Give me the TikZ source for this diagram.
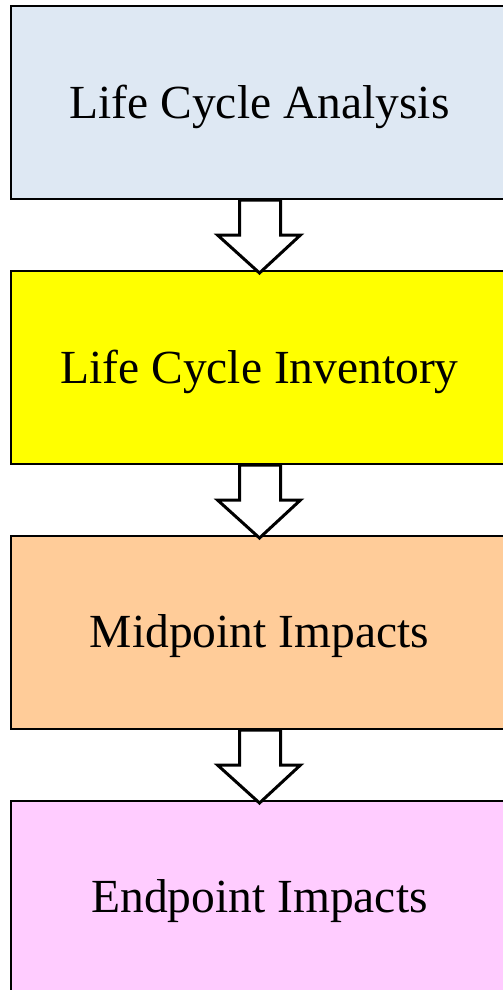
\documentclass[tikz,border=0pt]{standalone}
\usepackage{fontspec}
\setmainfont{Liberation Serif}
\usetikzlibrary{calc}
\definecolor{cA}{HTML}{DEE8F3}
\definecolor{cB}{HTML}{FFFF00}
\definecolor{cC}{HTML}{FFCC99}
\definecolor{cD}{HTML}{FFCCFF}
\tikzset{
  stagebox/.style={draw=black, line width=2pt, minimum width=497pt, minimum height=193pt,
    inner sep=0pt, anchor=north west},
  stagelabel/.style={font=\fontsize{47.5}{56}\selectfont, yshift=-4pt, inner sep=0pt}
}
\tikzset{blockarrow/.style={draw=black, fill=white, line width=3pt, line join=miter}}
\newcommand{\downarrowblock}[1]{%
  \draw[blockarrow] ($(#1.south)+(-20,0)$) -- ++(41,0) -- ++(0,35) -- ++(20,0)
    -- ++(-41,38) -- ++(-42,-38) -- ++(22,0) -- cycle;}
\begin{document}
\begin{tikzpicture}[x=1pt,y=-1pt]
\useasboundingbox (0,0) rectangle (503,990);
\node[stagebox, fill=cA, label={[stagelabel]center:Life Cycle Analysis}] (a) at (10,5) {};
\node[stagebox, fill=cB, label={[stagelabel]center:Life Cycle Inventory}] (b) at (10,270) {};
\node[stagebox, fill=cC, label={[stagelabel]center:Midpoint Impacts}] (c) at (10,535) {};
\node[stagebox, fill=cD, label={[stagelabel]center:Endpoint Impacts}] (d) at (10,800) {};
\downarrowblock{a}
\downarrowblock{b}
\downarrowblock{c}
\end{tikzpicture}
\end{document}
